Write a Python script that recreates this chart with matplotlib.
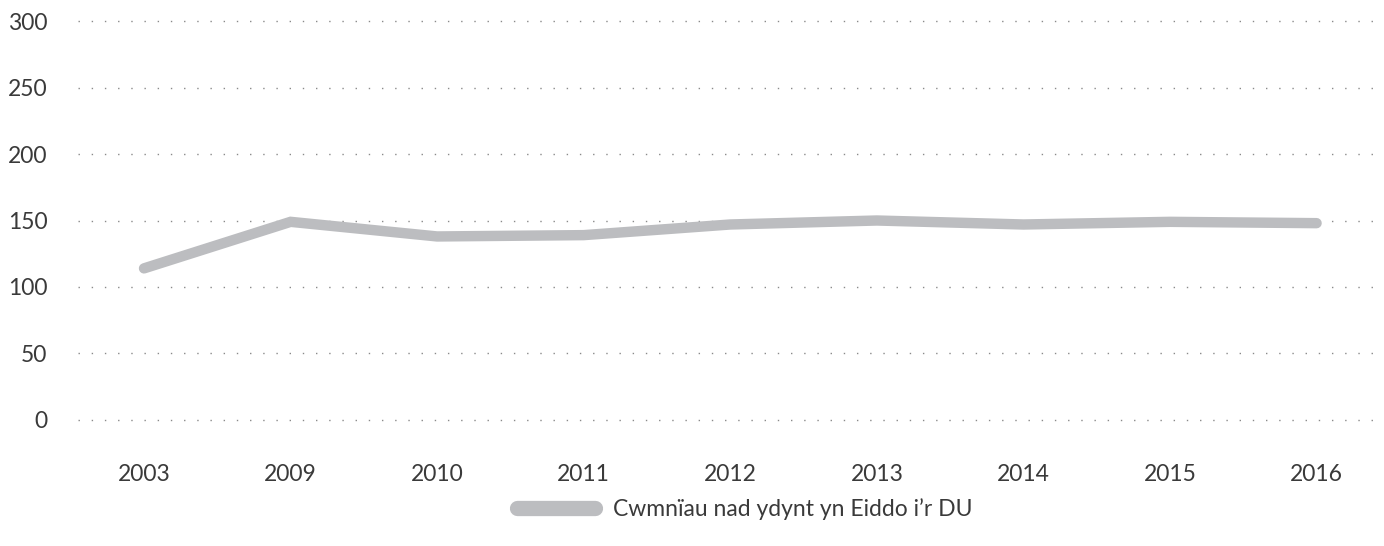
import matplotlib
matplotlib.use("Agg")
from matplotlib import pyplot as plt

plt.rcParams['font.family'] = ['Lato', 'DejaVu Sans']

# Data
years = ['2003', '2009', '2010', '2011', '2012', '2013', '2014', '2015', '2016']
companies = [114, 149, 138, 139, 147, 150, 147, 149, 148]
series_name = 'Cwmnïau nad ydynt yn Eiddo i’r DU'
y_ticks = [0, 50, 100, 150, 200, 250, 300]

text_color = '#3a3a3a'
line_color = '#bcbdc0'

fig = plt.figure(figsize=(13.84, 5.46), dpi=100)
ax = fig.add_axes([0.0564, 0.2308, 0.9436, 0.7307])

x = list(range(len(years)))
ax.plot(x, companies, color=line_color, linewidth=7.5,
        solid_capstyle='round', solid_joinstyle='miter', label=series_name,
        zorder=3)

ax.set_xlim(-0.45, 8.46)
ax.set_ylim(0, 300)
ax.set_yticks(y_ticks)
ax.set_xticks(x)
ax.set_xticklabels(years)

# dotted horizontal grid
for v in y_ticks:
    ax.axhline(v, color='#8a8a8a', linewidth=1.0, linestyle=(0, (1, 8.5)),
               zorder=1, clip_on=False)

for s in ax.spines.values():
    s.set_visible(False)
ax.tick_params(axis='both', length=0, labelsize=16.5, colors=text_color)
ax.tick_params(axis='y', pad=22)
ax.tick_params(axis='x', pad=32)
for lbl in ax.get_yticklabels():
    lbl.set_horizontalalignment('right')

leg = fig.legend(loc='center', bbox_to_anchor=(0.538, 0.068), frameon=False,
                 fontsize=16.5, handlelength=3.4, handletextpad=0.8,
                 labelcolor=text_color)
for h in leg.get_lines():
    h.set_linewidth(11)
    h.set_solid_capstyle('round')

fig.savefig('out.png', dpi=100)
